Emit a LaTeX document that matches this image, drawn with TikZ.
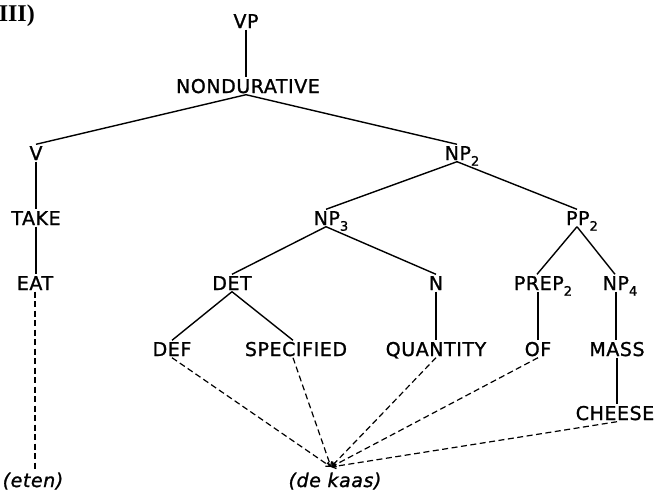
\documentclass[tikz,border=0pt]{standalone}
\usepackage{fontspec}
\setmainfont{DejaVu Sans}[LetterSpace=3, FakeBold=1.2]
\newfontfamily\romanbold{Liberation Serif}
\usepackage{tikz}
\usetikzlibrary{arrows.meta}
\newcommand{\idx}[1]{\raisebox{-0.3em}{\fontsize{13}{13}\selectfont #1}}

\begin{document}
\begin{tikzpicture}[x=1pt, y=-1pt,
    lbl/.style={inner sep=1.5pt, text height=14pt, text depth=0pt, font=\fontsize{19}{19}\selectfont},
    word/.style={lbl, font=\fontsize{19}{19}\selectfont\itshape},
    branch/.style={line width=1.4pt, draw=black},
    trace/.style={line width=1.2pt, dash pattern=on 6pt off 3.5pt, draw=black}
]
    \useasboundingbox (0,0) rectangle (659,491);

    \node[anchor=east, inner sep=0pt, font=\romanbold\bfseries\fontsize{24}{24}\selectfont] (label) at (35, 16) {III)};

    % Tree
    \node[lbl] (vp) at (246, 21) {VP};
    \node[lbl] (nondur) at (248, 86) {NONDURATIVE};
    \node[lbl] (v) at (36, 153) {V};
    \node[lbl] (np2) at (462, 153) {NP\idx{2}};
    \node[lbl] (take) at (36, 218) {TAKE};
    \node[lbl] (np3) at (331, 218) {NP\idx{3}};
    \node[lbl] (pp2) at (582, 218) {PP\idx{2}};
    \node[lbl] (eat) at (35, 283) {EAT};
    \node[lbl] (det) at (232, 283) {DET};
    \node[lbl] (n) at (436, 283) {N};
    \node[lbl] (prep2) at (543, 283) {PREP\idx{2}};
    \node[lbl] (np4) at (620, 283) {NP\idx{4}};
    \node[lbl] (def) at (172, 349) {DEF};
    \node[lbl] (spec) at (296, 349) {SPECIFIED};
    \node[lbl] (quant) at (436, 349) {QUANTITY};
    \node[lbl] (of) at (538, 349) {OF};
    \node[lbl] (mass) at (617, 349) {MASS};
    \node[lbl] (cheese) at (615, 413) {CHEESE};

    % Dutch words
    \node[word] (eten) at (33, 480) {(eten)};
    \node[word] (dekaas) at (335, 480) {(de kaas)};
    \coordinate (meet) at (331, 467);

    \draw[branch] (vp.south) -- (vp.south |- nondur.north);
    \draw[branch] ([xshift=-2pt]nondur.south) -- (v.north);
    \draw[branch] ([xshift=-2pt]nondur.south) -- ([xshift=-5pt]np2.north);
    \draw[branch] (v.south) -- (take.north);
    \draw[branch] (take.south) -- (take.south |- eat.north);
    \draw[branch] ([xshift=-5pt]np2.south) -- ([xshift=-5pt]np3.north);
    \draw[branch] ([xshift=-5pt]np2.south) -- ([xshift=-5pt]pp2.north);
    \draw[branch] ([xshift=-5pt]np3.south) -- (det.north);
    \draw[branch] ([xshift=-5pt]np3.south) -- (n.north);
    \draw[branch] ([xshift=-5pt]pp2.south) -- ([xshift=-6pt]prep2.north);
    \draw[branch] ([xshift=-5pt]pp2.south) -- ([xshift=-5pt]np4.north);
    \draw[branch] (det.south) -- (def.north);
    \draw[branch] (det.south) -- ([xshift=-3pt]spec.north);
    \draw[branch] (n.south) -- (quant.north);
    \draw[branch] ([xshift=-5pt]prep2.south) -- (of.north);
    \draw[branch] ([xshift=-4pt]np4.south) -- ([xshift=-1pt]mass.north);
    \draw[branch] (mass.south) -- (mass.south |- cheese.north);

    % Lexical insertion
    \draw[trace] (eat.south) -- (eat.south |- eten.north);
    \draw[trace, -{Straight Barb[length=4pt, width=5pt]}] (def.south) -- (meet);
    \draw[trace, -{Straight Barb[length=4pt, width=5pt]}] ([xshift=-3pt]spec.south) -- (meet);
    \draw[trace, -{Straight Barb[length=4pt, width=5pt]}] (quant.south) -- (meet);
    \draw[trace, -{Straight Barb[length=4pt, width=5pt]}] (of.south) -- (meet);
    \draw[trace, -{Straight Barb[length=4pt, width=5pt]}] ([xshift=2pt]cheese.south) -- (meet);
\end{tikzpicture}
\end{document}
